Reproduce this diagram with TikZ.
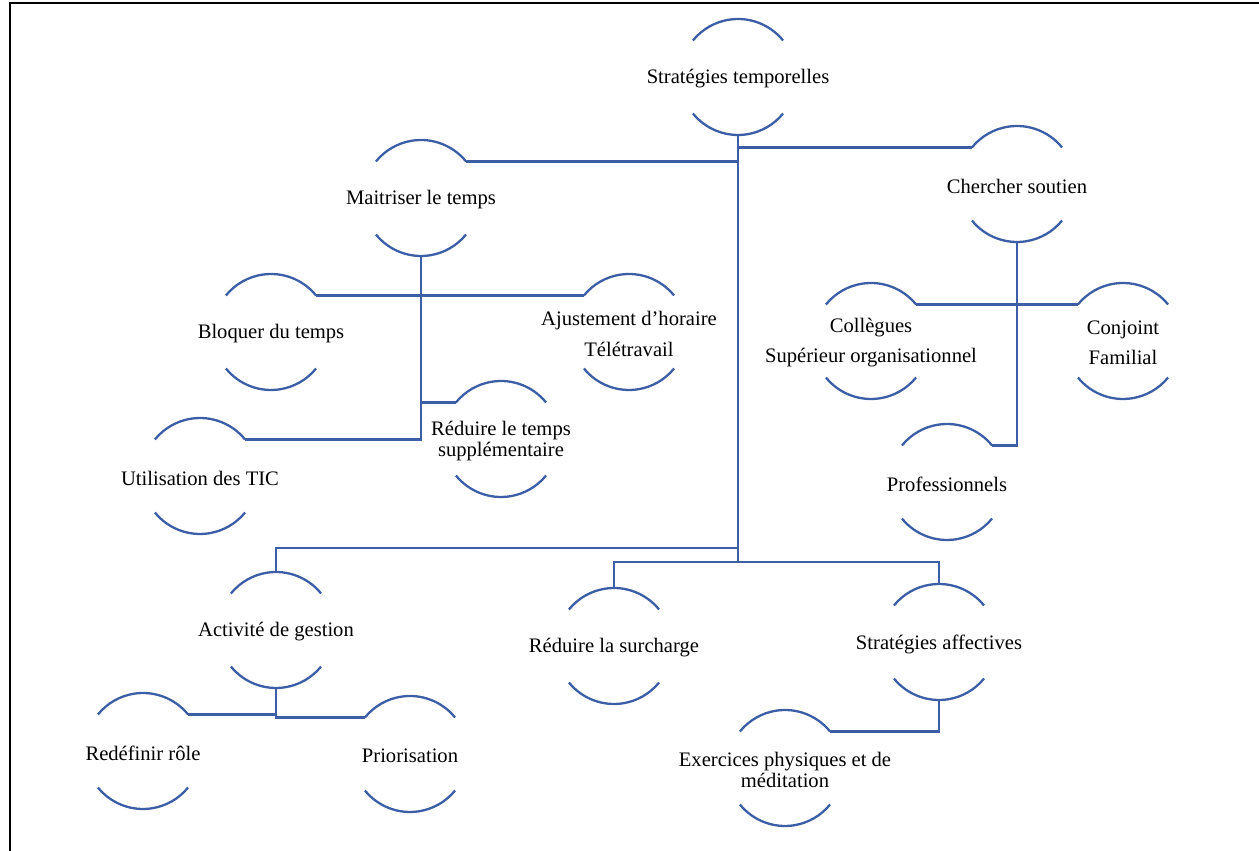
\documentclass[tikz,border=0pt]{standalone}
\usepackage{fontspec}
\setmainfont{Liberation Serif}
\definecolor{lb}{RGB}{59,94,166}
\tikzset{
 bub/.style={circle, minimum size=116pt, inner sep=0pt, outer sep=0pt, draw=none},
 lbl/.style={align=center, font=\fontsize{20.6}{21}\selectfont, inner sep=0pt, yshift=-2pt},
 link/.style={draw=lb, line width=2.3pt, line join=miter},
 frameline/.style={draw=black, line width=1.6pt}
}
\newcommand\bubble[4]{%
 \node[bub] (#1) at (#2,#3) {};
 \node[lbl] (#1-t) at (#1.center) {#4};
 \draw[link] (#1.39) arc[start angle=39,end angle=141,radius=58pt];
 \draw[link] (#1.219) arc[start angle=219,end angle=321,radius=58pt];
}
\begin{document}
\begin{tikzpicture}[x=1pt,y=1pt]
\useasboundingbox (0,0) rectangle (1259,851);
\draw[frameline] (10,0) -- (10,848) -- (1259,848);

\bubble{st}{738}{774}{Stratégies temporelles}
\bubble{m}{421}{653}{Maitriser le temps}
\bubble{cs}{1017}{667}{Chercher soutien}
\bubble{bl}{271}{519}{Bloquer du temps}
\bubble{aj}{629}{519}{Ajustement d’horaire\\[10pt]Télétravail}
\bubble{co}{871}{510}{Collègues\\[9pt]Supérieur organisationnel}
\bubble{cj}{1123}{510}{Conjoint\\[9pt]Familial}
\bubble{rt}{501}{412}{Réduire le temps\\supplémentaire}
\bubble{ut}{200}{375}{Utilisation des TIC}
\bubble{pr}{947}{369}{Professionnels}
\bubble{ag}{276}{221}{Activité de gestion}
\bubble{rs}{614}{205}{Réduire la surcharge}
\bubble{sa}{939}{209}{Stratégies affectives}
\bubble{rd}{143}{100}{Redéfinir rôle}
\bubble{pz}{410}{97}{Priorisation}
\bubble{ex}{785}{83}{Exercices physiques et de\\méditation}

\coordinate (j1) at (738,303);
\coordinate (j2) at (738,289);

% trunk
\draw[link] (st.south) -- (j2);
\draw[link] (m.39) -- (m.39 -| st.south);
\draw[link] (cs.141) -- (cs.141 -| st.south);
\draw[link] (j1) -| (ag.north);
\draw[link] (j2) -| (rs.north);
\draw[link] (j2) -| (sa.north);

% Maitriser le temps
\draw[link] (m.south) -- (m.south |- ut.39) -- (ut.39);
\draw[link] (bl.39) -- (aj.141);
\draw[link] (rt.141) -- (rt.141 -| m.south);

% Chercher soutien
\draw[link] (cs.south) -- (cs.south |- pr.39) -- (pr.39);
\draw[link] (co.39) -- (cj.141);

% Activite de gestion
\draw[link] (ag.south) -- (ag.south |- pz.141) -- (pz.141);
\draw[link] (rd.39) -- (rd.39 -| ag.south);

% Strategies affectives
\draw[link] (sa.south) |- (ex.39);
\end{tikzpicture}
\end{document}
